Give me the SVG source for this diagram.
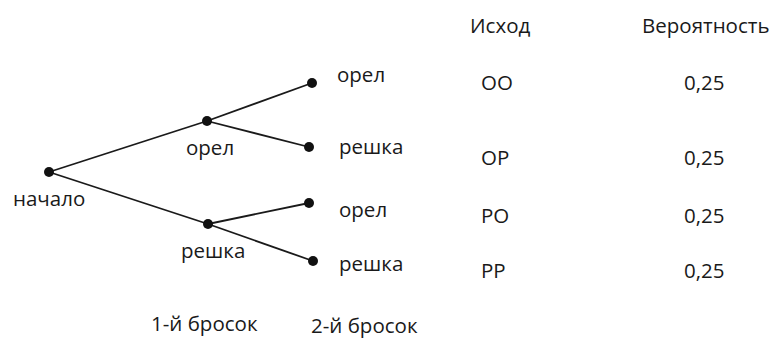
<svg xmlns="http://www.w3.org/2000/svg" width="771" height="340" viewBox="0 0 771 340">
<style>
text{font-family:"Open Sans","Noto Sans",sans-serif;font-size:20.5px;fill:#1a1a1a}
.e{stroke:#1a1a1a;stroke-width:1.8;fill:none}
.d{fill:#111}
</style>
<rect width="771" height="340" fill="#fff"/>
<g id="connectors">
<line class="e" x1="49" y1="172" x2="207" y2="121"/>
<line class="e" x1="49" y1="172" x2="208" y2="224"/>
<line class="e" x1="207" y1="121" x2="312" y2="83"/>
<line class="e" x1="207" y1="121" x2="309" y2="147"/>
<line class="e" x1="208" y1="224" x2="309" y2="203"/>
<line class="e" x1="208" y1="224" x2="313" y2="261"/>
</g>
<g id="root"><circle class="d" cx="49" cy="172" r="5"/><text x="13" y="206">начало</text></g>
<g id="n-o"><circle class="d" cx="207" cy="121" r="5"/><text x="186" y="155">орел</text></g>
<g id="n-r"><circle class="d" cx="208" cy="224" r="5"/><text x="181" y="258">решка</text></g>
<g id="leaf-oo"><circle class="d" cx="312" cy="83" r="5"/><text x="337" y="82">орел</text></g>
<g id="leaf-or"><circle class="d" cx="309" cy="147" r="5"/><text x="339" y="154">решка</text></g>
<g id="leaf-ro"><circle class="d" cx="309" cy="203" r="5"/><text x="339" y="217">орел</text></g>
<g id="leaf-rr"><circle class="d" cx="313" cy="261" r="5"/><text x="339" y="271">решка</text></g>
<g id="table">
<text x="470" y="33">Исход</text>
<text x="642" y="33">Вероятность</text>
<text x="481" y="90">ОО</text>
<text x="481" y="165">ОР</text>
<text x="481" y="223">РО</text>
<text x="481" y="278">РР</text>
<text x="684" y="90">0,25</text>
<text x="684" y="165">0,25</text>
<text x="684" y="223">0,25</text>
<text x="684" y="278">0,25</text>
</g>
<g id="axis">
<text x="151" y="331">1-й бросок</text>
<text x="311" y="333">2-й бросок</text>
</g>
</svg>
